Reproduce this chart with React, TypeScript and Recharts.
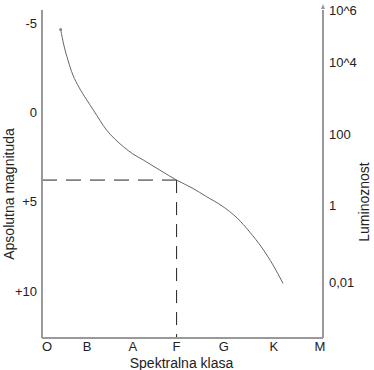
import { LineChart, Line, XAxis, YAxis, ReferenceLine, ReferenceDot, Label } from "recharts";

// spectral classes and where their labels sit on the x scale (O = 0, M = 6)
const CLASSES = ["O", "B", "A", "F", "G", "K", "M"];
const CLASS_POS = [0, 0.88, 1.89, 2.85, 3.89, 4.99, 6.0];

// absolute magnitude ticks
const MAG_TICKS = [-5, 0, 5, 10];
const MAG_LABELS = ["-5", "0", "+5", "+10"];

// luminosity labels on the right, placed in magnitude units
const LUM_LABELS = ["10^6", "10^4", "100", "1", "0,01"];
const LUM_POS = [-5.7, -2.82, 1.21, 5.18, 9.49];

// main sequence curve
const CURVE_CLASS = [0.3, 0.37, 0.46, 0.57, 0.7, 0.86, 1.02, 1.31, 1.49, 1.68, 1.89, 2.12, 2.48, 2.85, 3.19, 3.51, 3.85, 4.18, 4.46, 4.73, 4.97, 5.19];
const CURVE_MAG = [-4.64, -3.77, -2.93, -2.09, -1.42, -0.75, -0.13, 0.99, 1.49, 1.92, 2.33, 2.67, 3.23, 3.79, 4.23, 4.72, 5.24, 5.91, 6.7, 7.59, 8.54, 9.57];

// the sun-like star marked with dashed guides
const SUN_CLASS = 2.85;
const SUN_MAG = 3.79;

const X_DOMAIN = [-0.11, 6.07];
const Y_DOMAIN = [-5.73, 12.63];

const FONT = "'Liberation Sans', Arial, sans-serif";
const TEXT = "#222";
const AXIS = "#999";

const data = CURVE_CLASS.map((cls, i) => ({ cls, mag: CURVE_MAG[i] }));

const LeftTitle = ({ viewBox }: any) => {
  const x = viewBox.x + 9;
  const y = viewBox.y + viewBox.height / 2 + 20;
  return (
    <text x={x} y={y} transform={`rotate(-90 ${x} ${y})`} textAnchor="middle" dominantBaseline="central"
      fontSize={14} fill={TEXT} fontFamily={FONT}>
      Apsolutna magnituda
    </text>
  );
};

const RightTitle = ({ viewBox }: any) => {
  const x = viewBox.x + viewBox.width - 10;
  const y = viewBox.y + viewBox.height / 2 + 28;
  return (
    <text x={x} y={y} transform={`rotate(-90 ${x} ${y})`} textAnchor="middle" dominantBaseline="central"
      fontSize={14} fill={TEXT} fontFamily={FONT}>
      Luminoznost
    </text>
  );
};

const BottomTitle = ({ viewBox }: any) => (
  <text x={viewBox.x + viewBox.width / 2 - 1} y={viewBox.y + viewBox.height - 2} textAnchor="middle"
    fontSize={14} fill={TEXT} fontFamily={FONT}>
    Spektralna klasa
  </text>
);

const Arrow = ({ cx, cy }: any) => (
  <path d={`M${cx - 2},${cy - 1} L${cx},${cy - 6} L${cx + 2},${cy - 1} Z`} fill={AXIS} />
);

const StartTip = ({ cx, cy, index }: any) =>
  index === 0 ? <circle cx={cx} cy={cy} r={1.5} fill="#888" /> : <g />;

export default function App() {
  return (
    <div style={{ position: "absolute", left: 0, top: 0, background: "#fff" }}>
      <LineChart width={374} height={370} data={data} margin={{ top: 10, right: 0, bottom: 0, left: 0 }}>
        <XAxis
          dataKey="cls"
          type="number"
          domain={X_DOMAIN}
          ticks={CLASS_POS}
          interval={0}
          allowDataOverflow
          height={32}
          tickFormatter={(v: number) => CLASSES[CLASS_POS.indexOf(v)]}
          axisLine={{ stroke: AXIS, strokeWidth: 2 }}
          tickLine={false}
          tickSize={3}
          tickMargin={1}
          tick={{ fontSize: 13, fill: TEXT, fontFamily: FONT }}
        >
          <Label content={<BottomTitle />} />
        </XAxis>
        <YAxis
          yAxisId="mag"
          type="number"
          reversed
          domain={Y_DOMAIN}
          ticks={MAG_TICKS}
          interval={0}
          allowDataOverflow
          width={42}
          tickFormatter={(v: number) => MAG_LABELS[MAG_TICKS.indexOf(v)]}
          axisLine={{ stroke: AXIS, strokeWidth: 2 }}
          tickLine={false}
          tickSize={3}
          tickMargin={2}
          tick={{ fontSize: 13, fill: TEXT, fontFamily: FONT }}
        >
          <Label content={<LeftTitle />} />
        </YAxis>
        <YAxis
          yAxisId="lum"
          orientation="right"
          type="number"
          reversed
          domain={Y_DOMAIN}
          ticks={LUM_POS}
          interval={0}
          allowDataOverflow
          width={51}
          tickFormatter={(v: number) => LUM_LABELS[LUM_POS.indexOf(v)]}
          axisLine={{ stroke: AXIS, strokeWidth: 2 }}
          tickLine={false}
          tickSize={4}
          tickMargin={2}
          tick={{ fontSize: 13, fill: TEXT, fontFamily: FONT }}
        >
          <Label content={<RightTitle />} />
        </YAxis>
        <ReferenceLine
          yAxisId="mag"
          segment={[{ x: X_DOMAIN[0], y: SUN_MAG }, { x: SUN_CLASS, y: SUN_MAG }]}
          stroke="#222"
          strokeDasharray="15 9"
          ifOverflow="visible"
        />
        <ReferenceLine
          yAxisId="mag"
          segment={[{ x: SUN_CLASS, y: SUN_MAG }, { x: SUN_CLASS, y: Y_DOMAIN[1] }]}
          stroke="#222"
          strokeDasharray="13 9"
          ifOverflow="visible"
        />
        <Line
          yAxisId="mag"
          dataKey="mag"
          type="monotone"
          stroke="#666"
          strokeWidth={1}
          dot={<StartTip />}
          activeDot={false}
          isAnimationActive={false}
        />
        <ReferenceDot
          yAxisId="mag"
          x={X_DOMAIN[1]}
          y={Y_DOMAIN[0]}
          r={2}
          shape={<Arrow />}
          ifOverflow="visible"
        />
      </LineChart>
    </div>
  );
}
